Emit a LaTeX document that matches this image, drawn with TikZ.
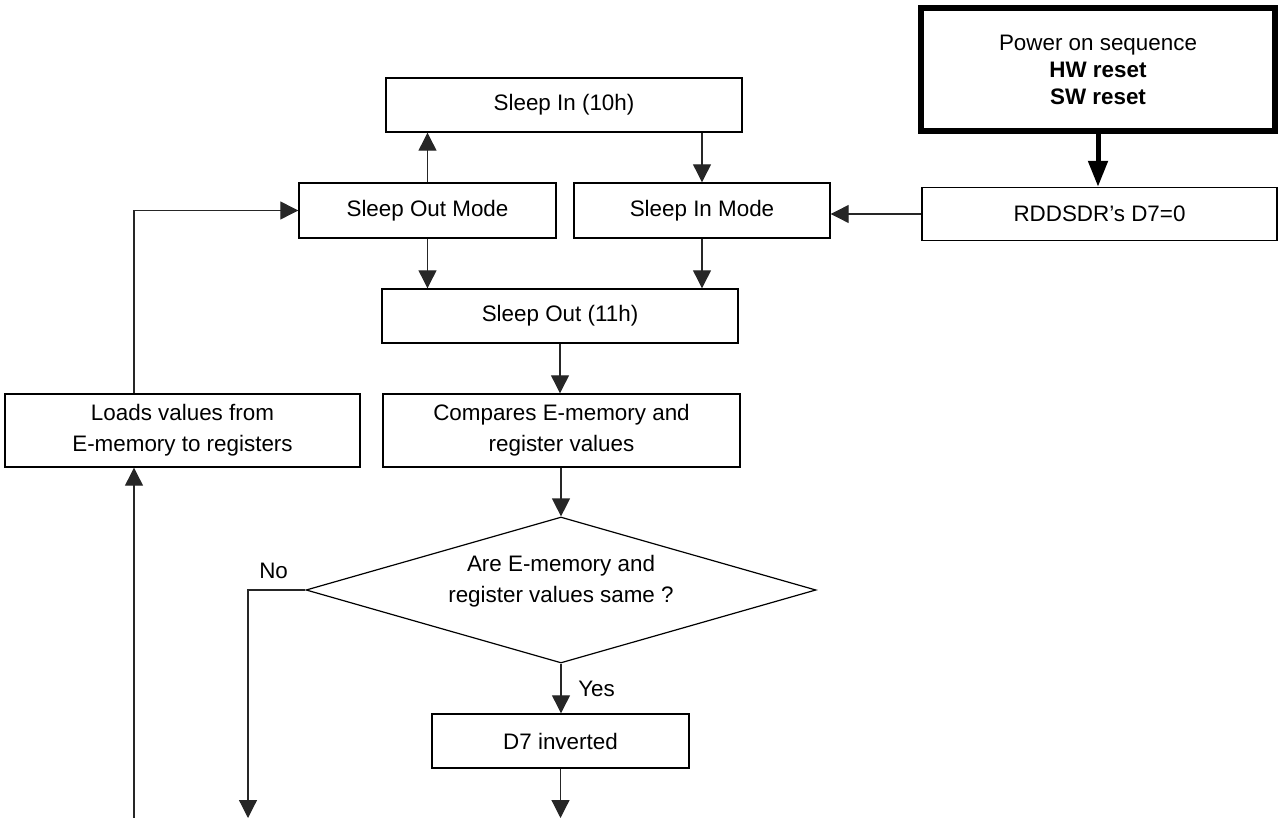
\documentclass[tikz,border=0pt]{standalone}
\usepackage{fontspec}
\setmainfont{Liberation Sans}
\usetikzlibrary{shapes.geometric,arrows.meta,calc}

\begin{document}
\begin{tikzpicture}[x=0.5pt,y=-0.5pt,
    box/.style={draw=black,line width=0.7pt,inner sep=2pt,align=center,
        font=\fontsize{11.2}{15.5}\selectfont},
    arr/.style={draw=black!85,line width=0.6pt,-{Triangle[length=9pt,width=9pt]}},
    bigarr/.style={draw=black,line width=2.5pt,-{Triangle[length=13pt,width=9.5pt]}},
    lbl/.style={font=\fontsize{11.2}{13}\selectfont}]

    \useasboundingbox (0,0) rectangle (1279,818);

    \node[box,line width=3pt,minimum width=177pt,minimum height=61.5pt,
        font=\fontsize{11.2}{13.5}\selectfont] (power) at (1098,69.5)
        {Power on sequence\\\textbf{HW reset}\\\textbf{SW reset}};
    \node[box,minimum width=177.5pt,minimum height=26.5pt] (rddsdr) at (1099.5,214) {RDDSDR’s D7=0};

    \node[box,minimum width=178pt,minimum height=27pt] (sleepin) at (564,105) {Sleep In (10h)};
    \node[box,minimum width=128.5pt,minimum height=27.5pt] (som) at (427.5,210.5) {Sleep Out Mode};
    \node[box,minimum width=128pt,minimum height=27.5pt] (sim) at (702,210.5) {Sleep In Mode};
    \node[box,minimum width=178pt,minimum height=27pt] (sleepout) at (560,316) {Sleep Out (11h)};

    \node[box,minimum width=178.5pt,minimum height=36.5pt] (compare) at (561.5,430.5)
        {Compares E-memory and\\register values};
    \node[box,minimum width=177.5pt,minimum height=36.5pt] (loads) at (182.5,430.5)
        {Loads values from\\E-memory to registers};

    \node[draw=black,line width=0.6pt,diamond,inner sep=0pt,minimum width=255pt,
        minimum height=73pt] (same) at (561,590) {};
    \node[box,draw=none] (sametext) at ($(same.center)+(0,-9)$)
        {Are E-memory and\\register values same ?};

    \node[box,minimum width=128.5pt,minimum height=27pt] (d7) at (560.5,741) {D7 inverted};

    \coordinate (noend) at (248,818);
    \coordinate (d7end) at (560.5,818);
    \coordinate (back) at (134,818);

    \draw[bigarr] (power.south) -- (power.south |- rddsdr.north);
    \draw[arr] (rddsdr.west) -- (rddsdr.west -| sim.east);

    \draw[arr] (som.north) -- (som.north |- sleepin.south);
    \draw[arr] (sim.north |- sleepin.south) -- (sim.north);
    \draw[arr] (som.south) -- (som.south |- sleepout.north);
    \draw[arr] (sim.south) -- (sim.south |- sleepout.north);

    \draw[arr] (sleepout.south) -- (sleepout.south |- compare.north);
    \draw[arr] (compare.south -| same.north) -- (same.north);
    \draw[arr] (same.south) -- node[lbl,right,xshift=5pt] (yes) {Yes} (same.south |- d7.north);
    \draw[arr] (d7.south) -- (d7end);

    \draw[arr] (same.west) -| node[lbl,pos=0.5,anchor=south west,xshift=2pt,yshift=2pt] (no) {No} (noend);

    \draw[arr] (back) -- (back |- loads.south);
    \draw[arr] (back |- loads.north) |- (som.west);

\end{tikzpicture}
\end{document}
